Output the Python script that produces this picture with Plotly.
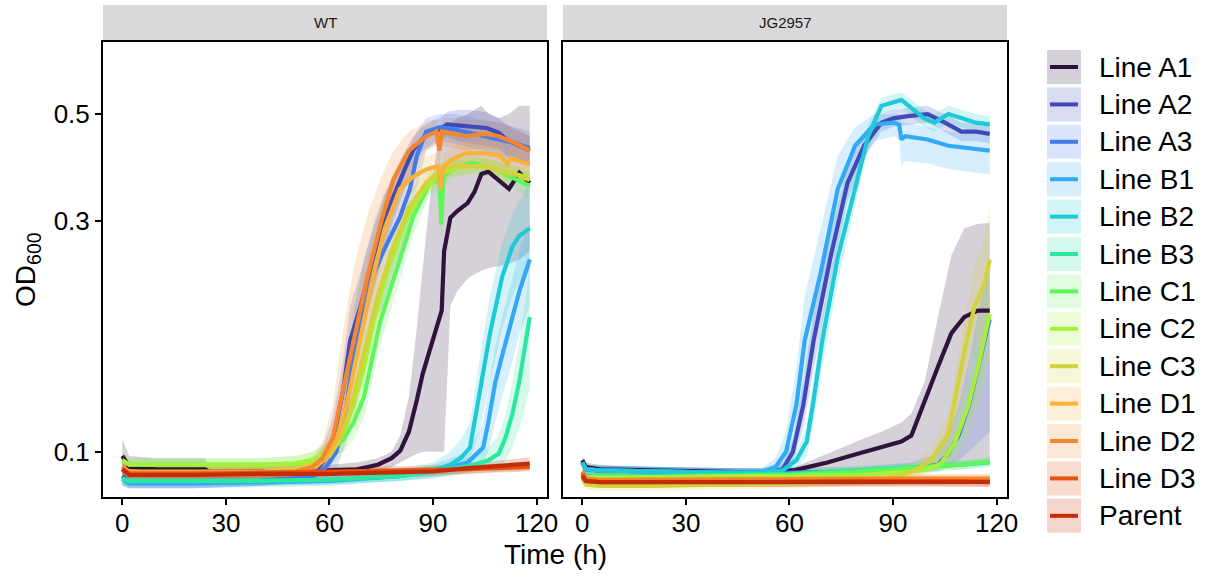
import plotly.graph_objects as go

# ---------------- data ----------------
SERIES = ["Line A1", "Line A2", "Line A3", "Line B1", "Line B2", "Line B3",
          "Line C1", "Line C2", "Line C3", "Line D1", "Line D2", "Line D3", "Parent"]
COLORS = ["#30123B", "#3E4AB8", "#457AEE", "#33A8F5", "#1FCAD6", "#2BE8A0",
          "#5FF65C", "#A6F03A", "#D4D23A", "#F8B13A", "#F6862E", "#E85210", "#C42C08"]
PANELS = ["WT", "JG2957"]
X_TICKS = [0, 30, 60, 90, 120]
Y_TICKS = [0.1, 0.3, 0.5]
Y_TICK_TEXT = ["0.1", "0.3", "0.5"]

# ---- WT ----
WT_A1_t = [0, 2, 10, 24, 25, 40, 50, 60, 68, 74, 78, 80.5, 83, 85.3, 87, 89, 91, 92.5, 93.2, 95, 97, 100, 102, 104, 106, 109, 112, 115, 118]
WT_A1_y = [0.098, 0.093, 0.092, 0.092, 0.091, 0.091, 0.091, 0.0915, 0.092, 0.094, 0.097, 0.1005, 0.11, 0.128, 0.145, 0.162, 0.18, 0.196, 0.26, 0.305, 0.315, 0.327, 0.345, 0.376, 0.38, 0.365, 0.35, 0.378, 0.36]
WT_A1_hi = [0.106, 0.098, 0.097, 0.097, 0.094, 0.094, 0.094, 0.094, 0.095, 0.097, 0.1, 0.108, 0.13, 0.18, 0.24, 0.33, 0.42, 0.46, 0.47, 0.48, 0.49, 0.5, 0.51, 0.52, 0.5, 0.49, 0.5, 0.52, 0.52]
WT_A1_lo = [0.092, 0.089, 0.088, 0.088, 0.088, 0.088, 0.088, 0.089, 0.09, 0.091, 0.093, 0.095, 0.097, 0.099, 0.1, 0.1, 0.1, 0.1, 0.1, 0.2, 0.215, 0.228, 0.233, 0.237, 0.24, 0.242, 0.245, 0.25, 0.26]

WT_A2_t = [0, 2, 20, 40, 50, 55, 58, 61, 64, 66, 69, 72.7, 76, 78.5, 81.5, 84.3, 87, 90, 92, 94, 97, 100, 105.5, 109, 111.3, 115, 118]
WT_A2_y = [0.089, 0.0865, 0.0865, 0.087, 0.088, 0.09, 0.095, 0.105, 0.135, 0.17, 0.2, 0.253, 0.3, 0.337, 0.38, 0.422, 0.445, 0.46, 0.465, 0.476, 0.474, 0.472, 0.468, 0.458, 0.443, 0.43, 0.42]
WT_A2_hi = [0.092, 0.089, 0.089, 0.09, 0.091, 0.094, 0.102, 0.118, 0.155, 0.2, 0.235, 0.29, 0.34, 0.375, 0.415, 0.45, 0.47, 0.485, 0.49, 0.505, 0.51, 0.51, 0.505, 0.49, 0.475, 0.46, 0.45]
WT_A2_lo = [0.086, 0.084, 0.084, 0.085, 0.086, 0.087, 0.09, 0.095, 0.115, 0.14, 0.17, 0.215, 0.26, 0.3, 0.345, 0.39, 0.42, 0.435, 0.44, 0.45, 0.44, 0.435, 0.43, 0.425, 0.41, 0.4, 0.39]

WT_A3_t = [0, 2, 20, 40, 50, 55, 59, 62, 65, 67, 70, 73, 75.6, 80.4, 83.3, 85.3, 88, 92, 96, 101.6, 105, 109.4, 114, 118]
WT_A3_y = [0.088, 0.0865, 0.0865, 0.087, 0.088, 0.089, 0.093, 0.1, 0.125, 0.16, 0.2, 0.235, 0.26, 0.306, 0.35, 0.41, 0.46, 0.47, 0.465, 0.456, 0.45, 0.443, 0.435, 0.425]
WT_A3_hi = [0.091, 0.089, 0.089, 0.09, 0.091, 0.093, 0.099, 0.112, 0.15, 0.195, 0.25, 0.3, 0.34, 0.39, 0.43, 0.46, 0.49, 0.5, 0.5, 0.49, 0.485, 0.48, 0.47, 0.46]
WT_A3_lo = [0.085, 0.084, 0.084, 0.085, 0.086, 0.086, 0.088, 0.092, 0.105, 0.13, 0.16, 0.185, 0.2, 0.24, 0.28, 0.35, 0.42, 0.44, 0.435, 0.425, 0.42, 0.41, 0.4, 0.39]

WT_B1_t = [0, 2, 20, 40, 60, 80, 90, 100, 102, 104.5, 106, 108, 110, 112, 115, 118]
WT_B1_y = [0.088, 0.086, 0.086, 0.0865, 0.087, 0.089, 0.091, 0.095, 0.098, 0.102, 0.115, 0.139, 0.158, 0.178, 0.215, 0.25]
WT_B1_hi = [0.091, 0.088, 0.088, 0.0885, 0.089, 0.091, 0.094, 0.1, 0.106, 0.115, 0.135, 0.165, 0.19, 0.215, 0.26, 0.3]
WT_B1_lo = [0.085, 0.084, 0.084, 0.0845, 0.085, 0.087, 0.088, 0.091, 0.093, 0.095, 0.1, 0.115, 0.13, 0.145, 0.175, 0.2]

WT_B2_t = [0, 2, 20, 40, 60, 80, 90, 95, 98, 100.7, 104, 106.5, 110, 113, 115, 118]
WT_B2_y = [0.088, 0.087, 0.087, 0.087, 0.0875, 0.089, 0.0915, 0.094, 0.097, 0.102, 0.139, 0.176, 0.23, 0.266, 0.28, 0.29]
WT_B2_hi = [0.091, 0.089, 0.089, 0.089, 0.0895, 0.092, 0.095, 0.1, 0.106, 0.115, 0.165, 0.21, 0.27, 0.31, 0.33, 0.36]
WT_B2_lo = [0.085, 0.085, 0.085, 0.085, 0.0855, 0.087, 0.089, 0.091, 0.093, 0.096, 0.115, 0.14, 0.18, 0.21, 0.225, 0.235]

WT_B3_t = [0, 2, 20, 40, 60, 80, 95, 102, 106, 109, 111, 113, 115, 118]
WT_B3_y = [0.088, 0.087, 0.087, 0.087, 0.0875, 0.089, 0.092, 0.094, 0.096, 0.099, 0.107, 0.12, 0.14, 0.19]
WT_B3_hi = [0.091, 0.089, 0.089, 0.089, 0.0895, 0.092, 0.095, 0.098, 0.102, 0.108, 0.12, 0.14, 0.17, 0.24]
WT_B3_lo = [0.085, 0.085, 0.085, 0.085, 0.0855, 0.087, 0.089, 0.091, 0.092, 0.093, 0.096, 0.102, 0.112, 0.135]

WT_C1_t = [0, 2, 20, 40, 50, 55, 60, 64, 67, 70, 74.6, 79.5, 84.2, 89, 91.8, 92.4, 93, 95, 101.5, 108, 113, 118]
WT_C1_y = [0.096, 0.094, 0.094, 0.094, 0.0945, 0.096, 0.1, 0.106, 0.115, 0.13, 0.185, 0.24, 0.306, 0.36, 0.365, 0.295, 0.37, 0.384, 0.396, 0.384, 0.37, 0.355]
WT_C1_hi = [0.099, 0.097, 0.097, 0.097, 0.098, 0.1, 0.105, 0.113, 0.125, 0.145, 0.205, 0.265, 0.33, 0.38, 0.385, 0.33, 0.39, 0.4, 0.41, 0.4, 0.39, 0.375]
WT_C1_lo = [0.093, 0.091, 0.091, 0.091, 0.0915, 0.093, 0.096, 0.1, 0.106, 0.117, 0.165, 0.215, 0.28, 0.34, 0.345, 0.265, 0.35, 0.368, 0.38, 0.368, 0.35, 0.335]

WT_C2_t = [0, 2, 20, 40, 50, 55, 60, 64, 67, 70, 73, 77, 82, 87, 91, 95, 100, 105, 110, 114, 118]
WT_C2_y = [0.096, 0.094, 0.094, 0.094, 0.0945, 0.096, 0.1, 0.11, 0.125, 0.15, 0.19, 0.24, 0.3, 0.345, 0.37, 0.385, 0.39, 0.39, 0.38, 0.375, 0.37]
WT_C2_hi = [0.099, 0.097, 0.097, 0.097, 0.098, 0.1, 0.105, 0.117, 0.135, 0.163, 0.205, 0.26, 0.32, 0.36, 0.385, 0.4, 0.405, 0.405, 0.395, 0.39, 0.385]
WT_C2_lo = [0.093, 0.091, 0.091, 0.091, 0.0915, 0.093, 0.096, 0.104, 0.116, 0.138, 0.175, 0.22, 0.28, 0.33, 0.355, 0.37, 0.375, 0.375, 0.365, 0.36, 0.355]

WT_C3_t = [0, 2, 20, 40, 50, 55, 60, 63, 66, 70, 74, 78, 83, 88, 92, 96, 100, 105, 110, 114, 118]
WT_C3_y = [0.093, 0.091, 0.091, 0.091, 0.092, 0.094, 0.098, 0.106, 0.122, 0.16, 0.21, 0.26, 0.32, 0.36, 0.38, 0.39, 0.39, 0.39, 0.38, 0.375, 0.365]
WT_C3_hi = [0.096, 0.094, 0.094, 0.094, 0.095, 0.098, 0.104, 0.115, 0.135, 0.18, 0.235, 0.285, 0.345, 0.38, 0.395, 0.405, 0.405, 0.405, 0.395, 0.39, 0.38]
WT_C3_lo = [0.09, 0.088, 0.088, 0.088, 0.089, 0.09, 0.093, 0.098, 0.11, 0.142, 0.187, 0.235, 0.295, 0.34, 0.365, 0.375, 0.375, 0.375, 0.365, 0.36, 0.35]

WT_D1_t = [0, 2, 20, 40, 50, 56, 59, 62, 65, 68, 72, 76, 80.4, 84, 88, 91.5, 92.2, 93, 96, 99.7, 105, 109.4, 111.5, 112.5, 115, 118]
WT_D1_y = [0.093, 0.0905, 0.0905, 0.0905, 0.091, 0.093, 0.097, 0.106, 0.125, 0.16, 0.22, 0.29, 0.35, 0.37, 0.384, 0.39, 0.35, 0.39, 0.405, 0.415, 0.415, 0.41, 0.395, 0.405, 0.4, 0.393]
WT_D1_hi = [0.096, 0.093, 0.093, 0.093, 0.094, 0.097, 0.103, 0.116, 0.145, 0.2, 0.27, 0.34, 0.39, 0.4, 0.41, 0.415, 0.38, 0.415, 0.43, 0.44, 0.44, 0.435, 0.42, 0.43, 0.425, 0.415]
WT_D1_lo = [0.09, 0.088, 0.088, 0.088, 0.088, 0.09, 0.092, 0.098, 0.11, 0.135, 0.185, 0.25, 0.315, 0.345, 0.36, 0.365, 0.325, 0.365, 0.38, 0.39, 0.39, 0.385, 0.37, 0.38, 0.375, 0.37]

WT_D2_t = [0, 2, 20, 40, 50, 55, 58, 61, 64, 67, 71, 75, 78.5, 83, 88, 91, 91.8, 92.6, 96, 99.7, 105, 109, 114, 118]
WT_D2_y = [0.093, 0.0905, 0.0905, 0.0905, 0.091, 0.093, 0.097, 0.107, 0.135, 0.17, 0.23, 0.3, 0.366, 0.42, 0.45, 0.46, 0.42, 0.46, 0.455, 0.45, 0.455, 0.45, 0.435, 0.42]
WT_D2_hi = [0.096, 0.093, 0.093, 0.093, 0.094, 0.097, 0.105, 0.125, 0.18, 0.24, 0.31, 0.37, 0.42, 0.46, 0.48, 0.49, 0.46, 0.49, 0.49, 0.485, 0.485, 0.48, 0.465, 0.45]
WT_D2_lo = [0.09, 0.088, 0.088, 0.088, 0.088, 0.09, 0.092, 0.098, 0.115, 0.14, 0.19, 0.25, 0.31, 0.37, 0.42, 0.43, 0.39, 0.43, 0.425, 0.42, 0.425, 0.42, 0.405, 0.39]

WT_D3_t = [0, 2, 20, 40, 60, 80, 100, 118]
WT_D3_y = [0.092, 0.09, 0.09, 0.0905, 0.091, 0.0915, 0.092, 0.093]
WT_D3_hi = [0.095, 0.092, 0.092, 0.0925, 0.093, 0.0935, 0.094, 0.095]
WT_D3_lo = [0.089, 0.088, 0.088, 0.0885, 0.089, 0.0895, 0.09, 0.091]

WT_P_t = [0, 2, 20, 40, 60, 80, 90, 100, 105, 110, 115, 118]
WT_P_y = [0.092, 0.0895, 0.0895, 0.09, 0.09, 0.0905, 0.091, 0.0925, 0.093, 0.0935, 0.094, 0.0945]
WT_P_hi = [0.095, 0.0915, 0.0915, 0.092, 0.092, 0.0925, 0.093, 0.095, 0.0955, 0.096, 0.097, 0.0975]
WT_P_lo = [0.089, 0.0875, 0.0875, 0.088, 0.088, 0.0885, 0.089, 0.09, 0.0905, 0.091, 0.091, 0.0915]

# ---- JG2957 ----
JG_A1_t = [0, 1, 5, 20, 40, 52, 61.5, 71, 80.8, 86.6, 92.4, 95.3, 99.2, 103, 106.9, 110.6, 114.5, 118]
JG_A1_y = [0.096, 0.093, 0.092, 0.0915, 0.091, 0.0905, 0.0916, 0.095, 0.0995, 0.102, 0.105, 0.108, 0.128, 0.15, 0.176, 0.19, 0.196, 0.196]
JG_A1_hi = [0.098, 0.095, 0.094, 0.093, 0.0925, 0.092, 0.093, 0.099, 0.106, 0.11, 0.115, 0.12, 0.14, 0.19, 0.255, 0.29, 0.296, 0.298]
JG_A1_lo = [0.094, 0.091, 0.09, 0.09, 0.0895, 0.089, 0.09, 0.091, 0.092, 0.092, 0.092, 0.092, 0.092, 0.0925, 0.093, 0.093, 0.094, 0.095]

JG_A2_t = [0, 1, 5, 20, 40, 52, 58, 61, 64, 67, 71.9, 76.8, 81.6, 86.6, 90, 94.3, 100, 105, 109.8, 114, 118]
JG_A2_y = [0.095, 0.092, 0.0915, 0.091, 0.0905, 0.0905, 0.092, 0.1, 0.125, 0.17, 0.253, 0.36, 0.43, 0.48, 0.49, 0.495, 0.5, 0.48, 0.46, 0.46, 0.455]
JG_A2_hi = [0.097, 0.094, 0.0935, 0.093, 0.0925, 0.0925, 0.095, 0.106, 0.14, 0.195, 0.285, 0.39, 0.455, 0.5, 0.51, 0.515, 0.52, 0.5, 0.48, 0.48, 0.475]
JG_A2_lo = [0.093, 0.09, 0.0895, 0.089, 0.0885, 0.0885, 0.09, 0.095, 0.112, 0.148, 0.225, 0.33, 0.405, 0.46, 0.47, 0.475, 0.48, 0.46, 0.44, 0.44, 0.435]

JG_A3_t = [0, 1, 5, 20, 40, 60, 80, 95, 103, 106, 109, 112, 115, 118]
JG_A3_y = [0.095, 0.092, 0.0915, 0.091, 0.0905, 0.0905, 0.091, 0.092, 0.094, 0.099, 0.108, 0.125, 0.155, 0.188]
JG_A3_hi = [0.097, 0.094, 0.0935, 0.093, 0.0925, 0.0925, 0.093, 0.095, 0.099, 0.108, 0.125, 0.155, 0.2, 0.25]
JG_A3_lo = [0.093, 0.09, 0.0895, 0.089, 0.0885, 0.0885, 0.089, 0.09, 0.091, 0.093, 0.096, 0.1, 0.105, 0.11]

JG_B1_t = [0, 1, 5, 20, 40, 52, 56, 59, 62, 64.4, 69, 74, 79, 84.6, 90.4, 91.8, 92.4, 93.5, 100, 106, 112, 118]
JG_B1_y = [0.095, 0.092, 0.0915, 0.091, 0.0905, 0.0905, 0.093, 0.1, 0.125, 0.17, 0.234, 0.35, 0.43, 0.476, 0.48, 0.475, 0.443, 0.45, 0.443, 0.43, 0.425, 0.42]
JG_B1_hi = [0.097, 0.094, 0.0935, 0.093, 0.0925, 0.0925, 0.097, 0.11, 0.15, 0.21, 0.29, 0.41, 0.47, 0.5, 0.5, 0.5, 0.48, 0.48, 0.47, 0.46, 0.455, 0.45]
JG_B1_lo = [0.093, 0.09, 0.0895, 0.089, 0.0885, 0.0885, 0.09, 0.094, 0.108, 0.14, 0.19, 0.29, 0.38, 0.44, 0.45, 0.44, 0.39, 0.4, 0.395, 0.385, 0.38, 0.375]

JG_B2_t = [0, 1, 5, 20, 40, 52, 58, 62, 65, 67, 69.5, 74, 78.8, 82.8, 86.6, 90.4, 92.4, 96, 99, 102, 106, 110, 114, 118]
JG_B2_y = [0.095, 0.092, 0.0915, 0.091, 0.0905, 0.0905, 0.0915, 0.096, 0.105, 0.128, 0.17, 0.253, 0.35, 0.45, 0.52, 0.53, 0.535, 0.51, 0.49, 0.48, 0.5, 0.49, 0.48, 0.476]
JG_B2_hi = [0.097, 0.094, 0.0935, 0.093, 0.0925, 0.0925, 0.094, 0.1, 0.113, 0.142, 0.19, 0.28, 0.38, 0.475, 0.54, 0.55, 0.555, 0.53, 0.51, 0.5, 0.52, 0.51, 0.5, 0.495]
JG_B2_lo = [0.093, 0.09, 0.0895, 0.089, 0.0885, 0.0885, 0.089, 0.092, 0.098, 0.115, 0.15, 0.225, 0.32, 0.425, 0.5, 0.51, 0.515, 0.49, 0.47, 0.46, 0.48, 0.47, 0.46, 0.457]

JG_B3_t = [0, 1, 5, 20, 40, 60, 80, 100, 110, 118]
JG_B3_y = [0.091, 0.089, 0.089, 0.089, 0.0895, 0.09, 0.0915, 0.093, 0.094, 0.095]
JG_B3_hi = [0.093, 0.091, 0.091, 0.091, 0.0915, 0.092, 0.0935, 0.095, 0.096, 0.097]
JG_B3_lo = [0.089, 0.087, 0.087, 0.087, 0.0875, 0.088, 0.0895, 0.091, 0.092, 0.093]

JG_C1_t = [0, 1, 5, 20, 40, 60, 80, 100, 110, 118]
JG_C1_y = [0.09, 0.0885, 0.0885, 0.0885, 0.089, 0.0895, 0.091, 0.093, 0.094, 0.0955]
JG_C1_hi = [0.092, 0.0905, 0.0905, 0.0905, 0.091, 0.0915, 0.093, 0.095, 0.096, 0.0975]
JG_C1_lo = [0.088, 0.0865, 0.0865, 0.0865, 0.087, 0.0875, 0.089, 0.091, 0.092, 0.0935]

JG_C2_t = [0, 1, 5, 20, 40, 60, 80, 95, 100, 104, 107.8, 111.7, 114.6, 118]
JG_C2_y = [0.09, 0.0885, 0.0885, 0.0885, 0.089, 0.089, 0.0895, 0.091, 0.092, 0.0947, 0.104, 0.124, 0.15, 0.193]
JG_C2_hi = [0.092, 0.0905, 0.0905, 0.0905, 0.091, 0.091, 0.0915, 0.094, 0.096, 0.1, 0.113, 0.14, 0.175, 0.23]
JG_C2_lo = [0.088, 0.0865, 0.0865, 0.0865, 0.087, 0.087, 0.0875, 0.089, 0.09, 0.091, 0.096, 0.108, 0.125, 0.155]

JG_C3_t = [0, 1, 5, 20, 40, 60, 80, 92, 97, 101, 106, 109, 110.7, 113.6, 116.5, 118]
JG_C3_y = [0.088, 0.0855, 0.085, 0.085, 0.0855, 0.086, 0.087, 0.089, 0.092, 0.096, 0.109, 0.14, 0.162, 0.2, 0.223, 0.25]
JG_C3_hi = [0.09, 0.0875, 0.087, 0.087, 0.0875, 0.088, 0.089, 0.092, 0.096, 0.102, 0.12, 0.16, 0.19, 0.24, 0.28, 0.32]
JG_C3_lo = [0.086, 0.0835, 0.083, 0.083, 0.0835, 0.084, 0.085, 0.087, 0.089, 0.092, 0.1, 0.122, 0.138, 0.165, 0.18, 0.195]

JG_D1_t = [0, 1, 5, 20, 40, 60, 80, 100, 110, 118]
JG_D1_y = [0.09, 0.0875, 0.087, 0.087, 0.087, 0.0872, 0.0875, 0.0875, 0.0875, 0.0875]
JG_D1_hi = [0.092, 0.0895, 0.089, 0.089, 0.089, 0.0892, 0.0895, 0.0895, 0.0895, 0.0895]
JG_D1_lo = [0.088, 0.0855, 0.085, 0.085, 0.085, 0.0852, 0.0855, 0.0855, 0.0855, 0.0855]

JG_D2_t = [0, 1, 5, 20, 40, 60, 80, 100, 110, 118]
JG_D2_y = [0.091, 0.088, 0.0875, 0.0875, 0.0875, 0.0878, 0.088, 0.088, 0.088, 0.088]
JG_D2_hi = [0.093, 0.09, 0.0895, 0.0895, 0.0895, 0.0898, 0.09, 0.09, 0.09, 0.09]
JG_D2_lo = [0.089, 0.086, 0.0855, 0.0855, 0.0855, 0.0858, 0.086, 0.086, 0.086, 0.086]

JG_D3_t = [0, 1, 5, 20, 40, 60, 80, 100, 110, 118]
JG_D3_y = [0.09, 0.087, 0.0865, 0.0865, 0.0865, 0.0867, 0.087, 0.087, 0.0868, 0.0865]
JG_D3_hi = [0.092, 0.089, 0.0885, 0.0885, 0.0885, 0.0887, 0.089, 0.089, 0.0888, 0.0885]
JG_D3_lo = [0.088, 0.085, 0.0845, 0.0845, 0.0845, 0.0847, 0.085, 0.085, 0.0848, 0.0845]

JG_P_t = [0, 1, 5, 20, 40, 60, 80, 100, 110, 118]
JG_P_y = [0.089, 0.087, 0.0865, 0.0865, 0.0865, 0.0866, 0.0868, 0.0868, 0.0866, 0.0866]
JG_P_hi = [0.091, 0.089, 0.0885, 0.0885, 0.0885, 0.0886, 0.0888, 0.0888, 0.0886, 0.0886]
JG_P_lo = [0.087, 0.085, 0.0845, 0.0845, 0.0845, 0.0846, 0.0848, 0.0848, 0.0846, 0.0846]

# table built from the arrays above
DATA = {
    "WT": [
        (WT_A1_t, WT_A1_y, WT_A1_lo, WT_A1_hi), (WT_A2_t, WT_A2_y, WT_A2_lo, WT_A2_hi),
        (WT_A3_t, WT_A3_y, WT_A3_lo, WT_A3_hi), (WT_B1_t, WT_B1_y, WT_B1_lo, WT_B1_hi),
        (WT_B2_t, WT_B2_y, WT_B2_lo, WT_B2_hi), (WT_B3_t, WT_B3_y, WT_B3_lo, WT_B3_hi),
        (WT_C1_t, WT_C1_y, WT_C1_lo, WT_C1_hi), (WT_C2_t, WT_C2_y, WT_C2_lo, WT_C2_hi),
        (WT_C3_t, WT_C3_y, WT_C3_lo, WT_C3_hi), (WT_D1_t, WT_D1_y, WT_D1_lo, WT_D1_hi),
        (WT_D2_t, WT_D2_y, WT_D2_lo, WT_D2_hi), (WT_D3_t, WT_D3_y, WT_D3_lo, WT_D3_hi),
        (WT_P_t, WT_P_y, WT_P_lo, WT_P_hi)],
    "JG2957": [
        (JG_A1_t, JG_A1_y, JG_A1_lo, JG_A1_hi), (JG_A2_t, JG_A2_y, JG_A2_lo, JG_A2_hi),
        (JG_A3_t, JG_A3_y, JG_A3_lo, JG_A3_hi), (JG_B1_t, JG_B1_y, JG_B1_lo, JG_B1_hi),
        (JG_B2_t, JG_B2_y, JG_B2_lo, JG_B2_hi), (JG_B3_t, JG_B3_y, JG_B3_lo, JG_B3_hi),
        (JG_C1_t, JG_C1_y, JG_C1_lo, JG_C1_hi), (JG_C2_t, JG_C2_y, JG_C2_lo, JG_C2_hi),
        (JG_C3_t, JG_C3_y, JG_C3_lo, JG_C3_hi), (JG_D1_t, JG_D1_y, JG_D1_lo, JG_D1_hi),
        (JG_D2_t, JG_D2_y, JG_D2_lo, JG_D2_hi), (JG_D3_t, JG_D3_y, JG_D3_lo, JG_D3_hi),
        (JG_P_t, JG_P_y, JG_P_lo, JG_P_hi)],
}

# ---------------- figure ----------------
W, H = 1211, 577
ML, MR, MT, MB = 103, 204, 42, 80
PW, PH = W - ML - MR, H - MT - MB
FONT = "Liberation Sans, Arial, sans-serif"


def rgba(hexc, a):
    h = hexc.lstrip("#")
    return "rgba(%d,%d,%d,%s)" % (int(h[0:2], 16), int(h[2:4], 16), int(h[4:6], 16), a)


def px(x):
    return (x - ML) / PW


def py(y):
    return (H - MB - y) / PH


fig = go.Figure()
axes = {"WT": ("x", "y"), "JG2957": ("x2", "y2")}

# ribbons first
for panel in PANELS:
    xa, ya = axes[panel]
    for (t, m, lo, hi), col in zip(DATA[panel], COLORS):
        fig.add_trace(go.Scatter(
            x=list(t) + list(t)[::-1], y=list(hi) + list(lo)[::-1],
            fill="toself", fillcolor=rgba(col, 0.2), mode="lines",
            line=dict(width=0, color="rgba(0,0,0,0)"), hoverinfo="skip",
            showlegend=False, xaxis=xa, yaxis=ya))
# lines
for panel in PANELS:
    xa, ya = axes[panel]
    for (t, m, lo, hi), col, name in zip(DATA[panel], COLORS, SERIES):
        fig.add_trace(go.Scatter(
            x=t, y=m, mode="lines", name=name,
            line=dict(color=col, width=4.2), showlegend=False,
            xaxis=xa, yaxis=ya))

d1 = px(547)
d2 = px(563)
xcommon = dict(range=[-5.6, 123], tickvals=X_TICKS, ticks="outside", ticklen=6,
               tickwidth=1.5, tickcolor="black", showline=True, mirror=True,
               linewidth=2, linecolor="black", showgrid=False, zeroline=False,
               ticklabelstandoff=-4,
               tickfont=dict(size=26, color="black", family=FONT))
ycommon = dict(type="log", range=[-1.0937, -0.1518], tickvals=Y_TICKS,
               ticktext=Y_TICK_TEXT, showline=True, mirror=True, linewidth=2,
               linecolor="black", showgrid=False, zeroline=False,
               tickfont=dict(size=26, color="black", family=FONT))

fig.update_layout(
    width=W, height=H, margin=dict(l=ML, r=MR, t=MT, b=MB),
    paper_bgcolor="white", plot_bgcolor="white",
    font=dict(family=FONT, color="black"),
    xaxis=dict(domain=[0, d1], anchor="y", **xcommon),
    xaxis2=dict(domain=[d2, 1], anchor="y2", **xcommon),
    yaxis=dict(anchor="x", ticks="outside", ticklen=6, tickwidth=1.5,
               tickcolor="black", **ycommon),
    yaxis2=dict(anchor="x2", ticks="", showticklabels=False, matches="y",
                **ycommon),
)

shapes = []
annotations = []
# strips
for (x0, x1), lab in zip([(0, d1), (d2, 1)], PANELS):
    shapes.append(dict(type="rect", xref="paper", yref="paper", x0=x0, x1=x1,
                       y0=py(41), y1=py(5), fillcolor="#D9D9D9", line=dict(width=0),
                       layer="below"))
    annotations.append(dict(xref="paper", yref="paper", x=(x0 + x1) / 2, y=py(23),
                            xanchor="center", yanchor="middle",
                            text=lab, showarrow=False,
                            font=dict(size=15, color="#1A1A1A", family=FONT)))

# axis titles
annotations.append(dict(xref="paper", yref="paper", x=px(555), y=py(554),
                        xanchor="center", yanchor="middle",
                        text="Time (h)", showarrow=False,
                        font=dict(size=28, color="black", family=FONT)))
annotations.append(dict(xref="paper", yref="paper", x=px(27), y=py(270),
                        xanchor="center", yanchor="middle",
                        text="OD<sub>600</sub>", showarrow=False, textangle=-90,
                        font=dict(size=28, color="black", family=FONT)))

# legend (drawn manually so keys match ribbon + line look)
for i, (name, col) in enumerate(zip(SERIES, COLORS)):
    top = 50 + 37.4 * i
    bot = top + 34
    cy = (top + bot) / 2
    shapes.append(dict(type="rect", xref="paper", yref="paper",
                       x0=px(1047), x1=px(1081), y0=py(bot), y1=py(top),
                       fillcolor=rgba(col, 0.2), line=dict(width=0)))
    shapes.append(dict(type="line", xref="paper", yref="paper",
                       x0=px(1050), x1=px(1078), y0=py(cy), y1=py(cy),
                       line=dict(color=col, width=4)))
    annotations.append(dict(xref="paper", yref="paper", x=px(1097), y=py(cy),
                            xanchor="left", yanchor="middle", text=name,
                            showarrow=False,
                            font=dict(size=28, color="black", family=FONT)))

fig.update_layout(shapes=shapes, annotations=annotations)
fig.write_html("out.html")
